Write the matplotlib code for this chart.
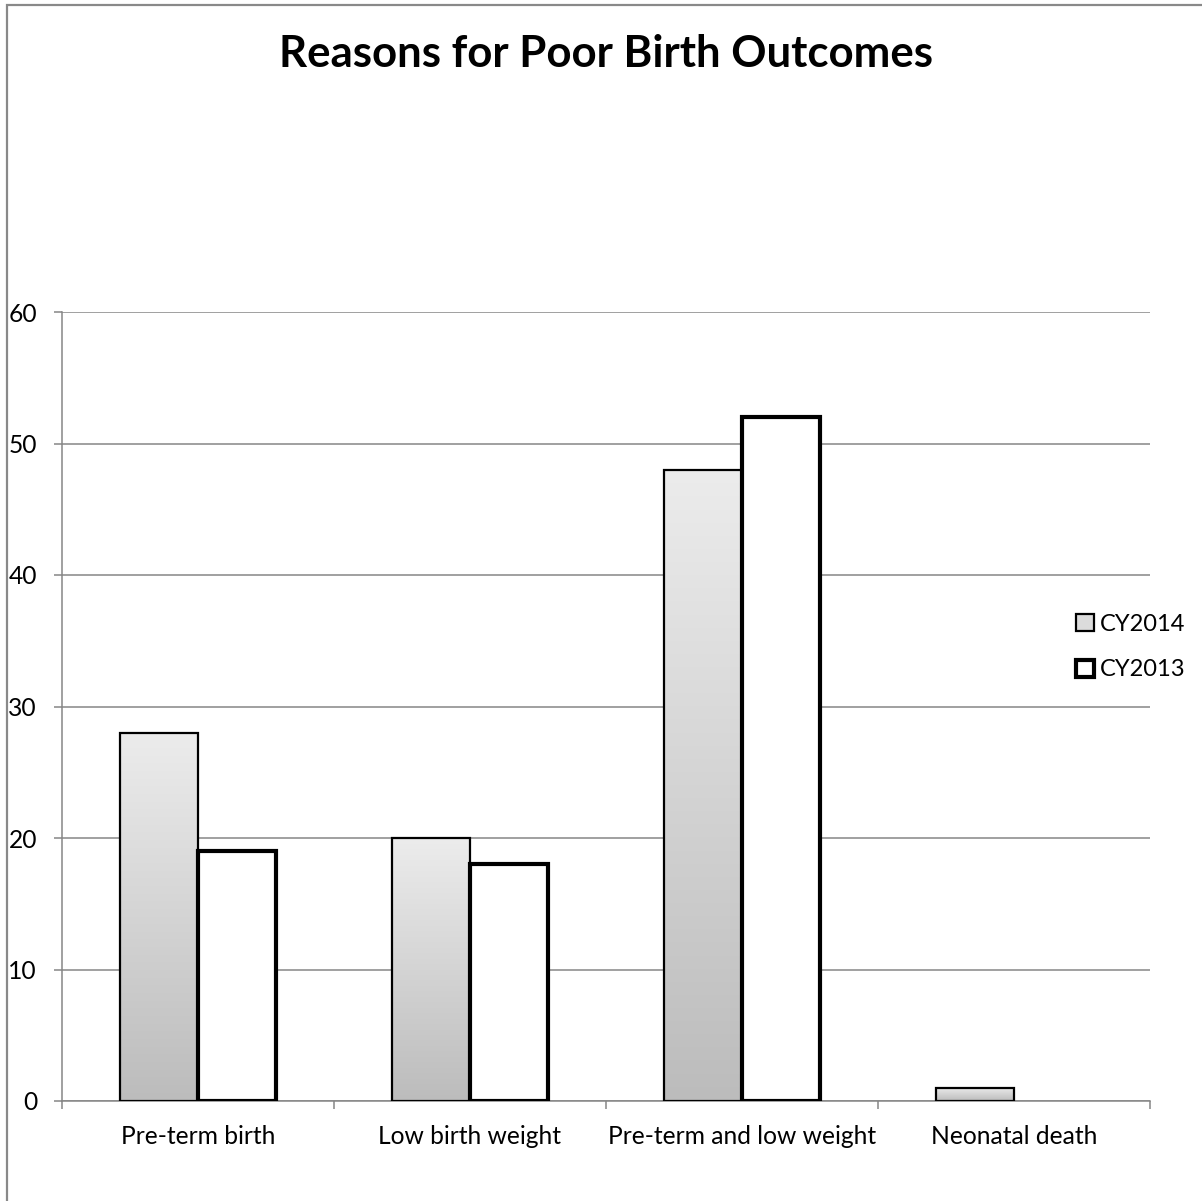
import numpy as np
import matplotlib
matplotlib.use("Agg")
from matplotlib import pyplot as plt
from matplotlib.patches import Patch, Rectangle
from matplotlib.colors import LinearSegmentedColormap

plt.rcParams['font.family'] = ['Lato', 'DejaVu Sans']

categories = ["Pre-term birth", "Low birth weight", "Pre-term and low weight", "Neonatal death"]
cy2014 = [28, 20, 48, 1]
cy2013 = [19, 18, 52, 0]
series_names = ["CY2014", "CY2013"]
yticks = [0, 10, 20, 30, 40, 50, 60]

W, H = 1202, 1201
fig = plt.figure(figsize=(W / 100, H / 100), dpi=100)

# plot area in pixels: x 62..1150, y 312..1101
ax = fig.add_axes([62 / W, 1 - 1101 / H, (1150 - 62) / W, (1101 - 312) / H])

grid_col = "#868686"
bar_w = 0.287
x = np.arange(len(categories))

# gray gradient for CY2014 bars, darker at the base
grad_cmap = LinearSegmentedColormap.from_list("g", ["#bcbcbc", "#ececec"])
grad = np.linspace(0, 1, 256).reshape(-1, 1)
for xi, v in zip(x, cy2014):
    if v <= 0:
        continue
    ax.imshow(grad, extent=[xi - bar_w, xi, 0, v], origin="lower", aspect="auto",
              cmap=grad_cmap, zorder=2, interpolation="bilinear")

# empty values get no outline
edges14 = ["black" if v > 0 else "none" for v in cy2014]
edges13 = ["black" if v > 0 else "none" for v in cy2013]
ax.bar(x - bar_w / 2, cy2014, width=bar_w, facecolor="none", edgecolor=edges14,
       linewidth=1.6, zorder=3)
ax.bar(x + bar_w / 2, cy2013, width=bar_w, facecolor="white", edgecolor=edges13,
       linewidth=3.0, zorder=3)

ax.set_xlim(-0.5, len(categories) - 0.5)
ax.set_ylim(0, 60)
ax.set_yticks(yticks)
ax.yaxis.grid(True, color=grid_col, linewidth=1.1, zorder=0)
ax.set_axisbelow(True)

for s in ["top", "right"]:
    ax.spines[s].set_visible(False)
for s in ["left", "bottom"]:
    ax.spines[s].set_color(grid_col)
    ax.spines[s].set_linewidth(1.1)
    ax.spines[s].set_zorder(1)

ax.set_xticks(x)
ax.set_xticklabels(categories)
ax.set_xticks(np.arange(-0.5, len(categories)), minor=True)
ax.tick_params(axis="x", which="major", length=0, pad=17, labelsize=17.7)
ax.tick_params(axis="x", which="minor", length=6, width=1.1, color=grid_col, direction="out")
ax.tick_params(axis="y", length=6, width=1.1, color=grid_col, pad=12, labelsize=17.7)

handles = [
    Patch(facecolor="#dcdcdc", edgecolor="black", linewidth=1.6),
    Patch(facecolor="white", edgecolor="black", linewidth=3.0),
]
fig.legend(handles, series_names, loc="center left",
           bbox_to_anchor=(1064 / W, 1 - 647 / H), frameon=False,
           fontsize=17, handlelength=0.75, handleheight=0.75,
           handletextpad=0.25, labelspacing=1.05, borderpad=0)

fig.text(606 / W, 1 - 54 / H, "Reasons for Poor Birth Outcomes", ha="center", va="center",
         fontsize=31.5, fontweight="bold")

# outer chart border
fig.add_artist(Rectangle((7 / W, -0.01), 1.02, 1 - 5 / H + 0.01, transform=fig.transFigure,
                         facecolor="none", edgecolor="#898989", linewidth=1.6))

fig.savefig("out.png", dpi=100)
